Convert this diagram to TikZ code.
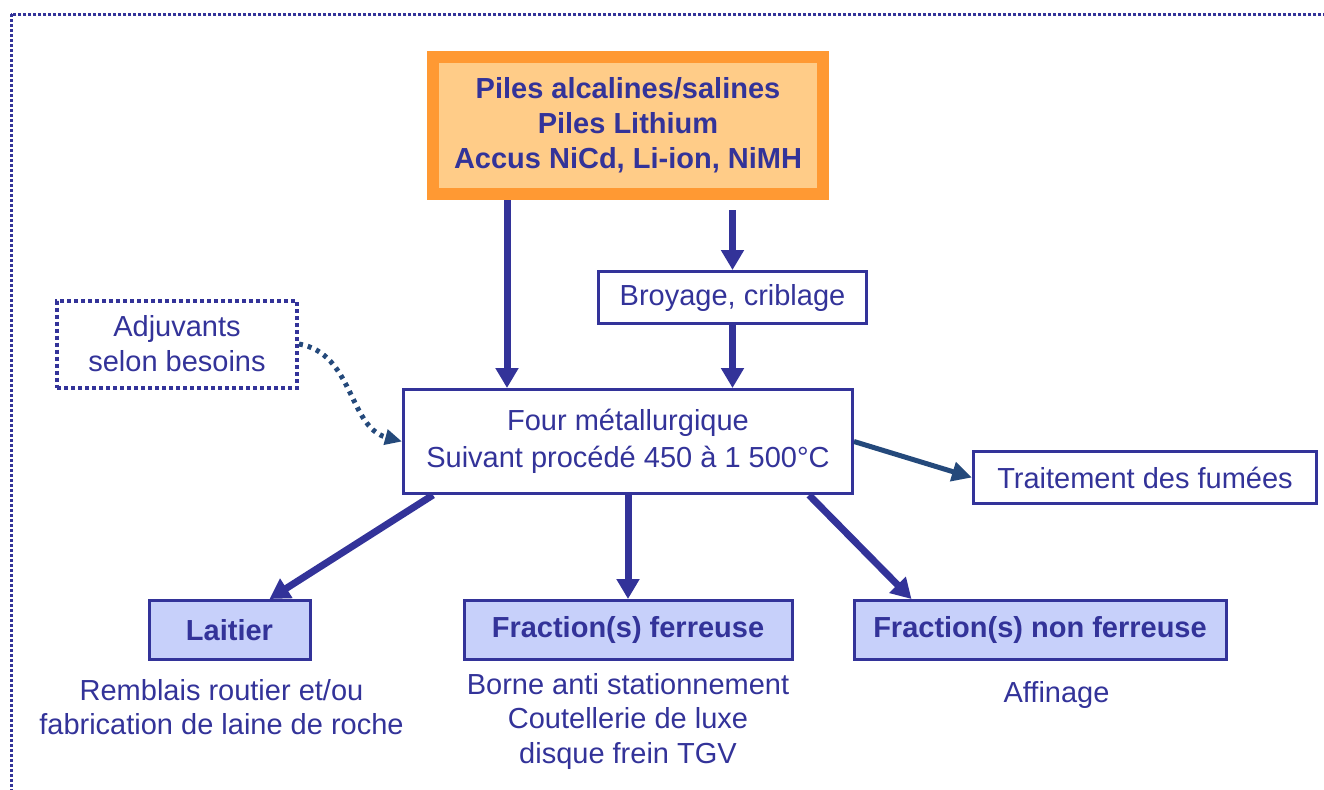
\documentclass[tikz,border=0pt]{standalone}
\usepackage{fontspec}
\setmainfont{Liberation Sans}
\usetikzlibrary{arrows.meta,positioning}
\definecolor{txtblue}{HTML}{333399}
\definecolor{darkarrow}{HTML}{24497B}
\definecolor{orangeline}{HTML}{FF9933}
\definecolor{orangefill}{HTML}{FFCC88}
\definecolor{bluefill}{HTML}{C7D0FA}
\begin{document}
\begin{tikzpicture}[node distance = 1cm, auto,
  font=\fontsize{16.5}{20}\selectfont, text=txtblue,
  box/.style={draw=txtblue, line width=0.06cm, inner sep=0pt, align=center},
  outbox/.style={box, fill=bluefill, minimum height=1.18cm, font=\fontsize{16.5}{20}\selectfont\bfseries},
  note/.style={inner sep=0pt, align=center, font=\fontsize{16.5}{19.6}\selectfont},
  flow/.style={-{Triangle[length=0.4cm,width=0.44cm]}, color=txtblue, line width=0.14cm},
  side/.style={-{Triangle[length=0.4cm,width=0.38cm]}, color=darkarrow, line width=0.1cm}]
\useasboundingbox (0,0) rectangle (26.48,-15.78);
\clip (0,0) rectangle (26.48,-15.78);
\draw[txtblue, line width=0.06cm, dash pattern=on 0.06cm off 0.04cm] (0.22,-0.28) rectangle (27,-16.5);

\node[box, minimum width=8.98cm, minimum height=2.08cm, font=\fontsize{16.5}{21}\selectfont] (four) at (12.56,-8.83) {Four métallurgique\\Suivant procédé 450 à 1 500°C};
\node[box, draw=orangeline, fill=orangefill, line width=0.24cm, minimum width=7.8cm, minimum height=2.74cm, font=\fontsize{16.5}{20}\selectfont\bfseries, above = 3.76cm of four] (piles) {Piles alcalines/salines\\Piles Lithium\\Accus NiCd, Li-ion, NiMH};
\node[box, minimum width=5.36cm, minimum height=1.04cm, above = 1.26cm of four, xshift=2.09cm] (broyage) {Broyage, criblage};
\node[box, minimum width=6.86cm, minimum height=1.04cm, right = 2.36cm of four, yshift=-0.72cm] (fumees) {Traitement des fumées};
\node[box, line width=0.08cm, dash pattern=on 0.08cm off 0.06cm, minimum width=4.8cm, minimum height=1.74cm, left = 2.06cm of four, yshift=1.95cm] (adjuvants) {Adjuvants\\selon besoins};

\node[outbox, minimum width=6.56cm, below = 2.08cm of four] (ferreuse) {Fraction(s) ferreuse};
\node[outbox, minimum width=3.22cm, left = 3.02cm of ferreuse] (laitier) {Laitier};
\node[outbox, minimum width=7.44cm, right = 1.18cm of ferreuse] (nonferreuse) {Fraction(s) non ferreuse};

\node[note, below = 0.36cm of laitier, xshift=-0.16cm] (remblais) {Remblais routier et/ou\\fabrication de laine de roche};
\node[note, below = 0.24cm of ferreuse] (borne) {Borne anti stationnement\\Coutellerie de luxe\\disque frein TGV};
\node[note, below = 0.4cm of nonferreuse, xshift=0.33cm] (affinage) {Affinage};

\path[flow] ([xshift=-2.42cm]piles.south) edge ([xshift=-2.42cm]four.north);
\path[flow] ([yshift=1.2cm]broyage.north) edge (broyage.north);
\path[flow] (broyage.south) edge (broyage.south |- four.north);
\path[side] (four.east) edge (fumees.west);
\path[side, dash pattern=on 0.08cm off 0.1cm, -{Triangle[length=0.34cm,width=0.3cm]}] (adjuvants.east) edge[out=-10, in=165] (four.west);
\path[flow] ([xshift=0.62cm]four.south west) edge ([xshift=0.8cm]laitier.north);
\path[flow] (four.south -| ferreuse.north) edge (ferreuse.north);
\path[flow] ([xshift=-0.9cm]four.south east) edge ([xshift=1.18cm]nonferreuse.north west);
\end{tikzpicture}
\end{document}
